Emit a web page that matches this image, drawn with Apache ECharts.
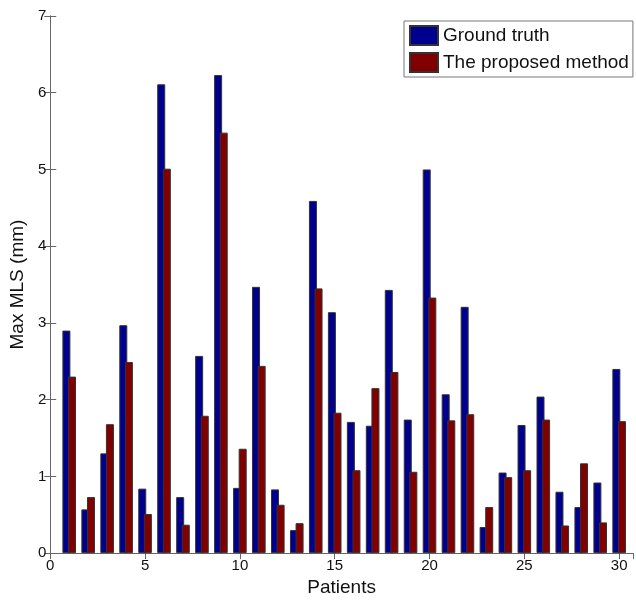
<!DOCTYPE html>
<html>
<head>
<meta charset="utf-8">
<title>Max MLS</title>
<script src="https://cdn.jsdelivr.net/npm/echarts@6/dist/echarts.min.js"></script>
<style>
  html, body { margin: 0; padding: 0; background: #fff; }
  #chart { width: 636px; height: 602px; }
</style>
</head>
<body>
<div id="chart"></div>
<script>
  var patients = [1, 2, 3, 4, 5, 6, 7, 8, 9, 10, 11, 12, 13, 14, 15,
                  16, 17, 18, 19, 20, 21, 22, 23, 24, 25, 26, 27, 28, 29, 30];
  var groundTruth = [2.90, 0.57, 1.30, 2.97, 0.84, 6.11, 0.73, 2.57, 6.23, 0.85,
                     3.47, 0.83, 0.30, 4.59, 3.14, 1.71, 1.66, 3.43, 1.74, 5.00,
                     2.07, 3.21, 0.34, 1.05, 1.67, 2.04, 0.80, 0.60, 0.92, 2.40];
  var proposed = [2.30, 0.73, 1.68, 2.49, 0.51, 5.01, 0.37, 1.79, 5.48, 1.36,
                  2.44, 0.63, 0.39, 3.45, 1.83, 1.08, 2.15, 2.36, 1.06, 3.33,
                  1.73, 1.81, 0.60, 0.99, 1.08, 1.74, 0.36, 1.17, 0.40, 1.72];
  var xTicks = [0, 5, 10, 15, 20, 25, 30];

  function pairs(vals) {
    return patients.map(function (p, i) { return [p, vals[i]]; });
  }

  var axisColor = '#666';
  var font = 'Liberation Sans, Arial, sans-serif';

  var myChart = echarts.init(document.getElementById('chart'), null, { renderer: 'canvas' });
  var option = {
    backgroundColor: '#fff',
    animation: false,
    grid: {
      left: 47,
      right: 3,
      top: 16,
      bottom: 40
    },
    legend: {
      data: ['Ground truth', 'The proposed method'],
      orient: 'vertical',
      left: 404,
      top: 21,
      icon: 'rect',
      itemWidth: 28,
      itemHeight: 19,
      itemGap: 6,
      padding: [4, 4, 4, 5],
      borderColor: '#777',
      borderWidth: 1,
      backgroundColor: '#fff',
      textStyle: { fontFamily: font, fontSize: 19, color: '#111' }
    },
    xAxis: [{
      type: 'value',
      min: 0,
      max: 30.73,
      interval: 5,
      name: 'Patients',
      nameLocation: 'middle',
      nameGap: 21,
      nameTextStyle: { fontFamily: font, fontSize: 19, color: '#111' },
      axisLine: { show: true, lineStyle: { color: axisColor } },
      axisTick: { show: true, inside: true, length: 6, lineStyle: { color: axisColor } },
      axisLabel: {
        fontFamily: font, fontSize: 15, color: '#111', margin: 5,
        showMaxLabel: false,
        formatter: function (v) { return xTicks.indexOf(v) >= 0 ? String(v) : ''; }
      },
      splitLine: { show: false }
    }, {
      type: 'value',
      position: 'top',
      min: 0,
      max: 30.73,
      interval: 5,
      axisLine: { show: true, lineStyle: { color: axisColor } },
      axisTick: { show: true, inside: true, length: 6, lineStyle: { color: axisColor } },
      axisLabel: { show: false },
      splitLine: { show: false }
    }],
    yAxis: [{
      type: 'value',
      min: 0,
      max: 7,
      interval: 1,
      name: 'Max MLS (mm)',
      nameLocation: 'middle',
      nameGap: 19,
      nameTextStyle: { fontFamily: font, fontSize: 19, color: '#111' },
      axisLine: { show: true, lineStyle: { color: axisColor } },
      axisTick: { show: true, inside: true, length: 6, lineStyle: { color: axisColor } },
      axisLabel: { fontFamily: font, fontSize: 15, color: '#111', margin: 4 },
      splitLine: { show: false }
    }, {
      type: 'value',
      position: 'right',
      min: 0,
      max: 7,
      interval: 1,
      axisLine: { show: true, lineStyle: { color: axisColor } },
      axisTick: { show: true, inside: true, length: 6, lineStyle: { color: axisColor } },
      axisLabel: { show: false },
      splitLine: { show: false }
    }],
    series: [{
      name: 'Ground truth',
      type: 'bar',
      barWidth: 8,
      barGap: '-30%',
      itemStyle: { color: '#00008f', borderColor: '#333', borderWidth: 1 },
      data: pairs(groundTruth)
    }, {
      name: 'The proposed method',
      type: 'bar',
      barWidth: 8,
      barGap: '-30%',
      itemStyle: { color: '#800000', borderColor: '#333', borderWidth: 1 },
      data: pairs(proposed)
    }]
  };
  myChart.setOption(option);
</script>
</body>
</html>
